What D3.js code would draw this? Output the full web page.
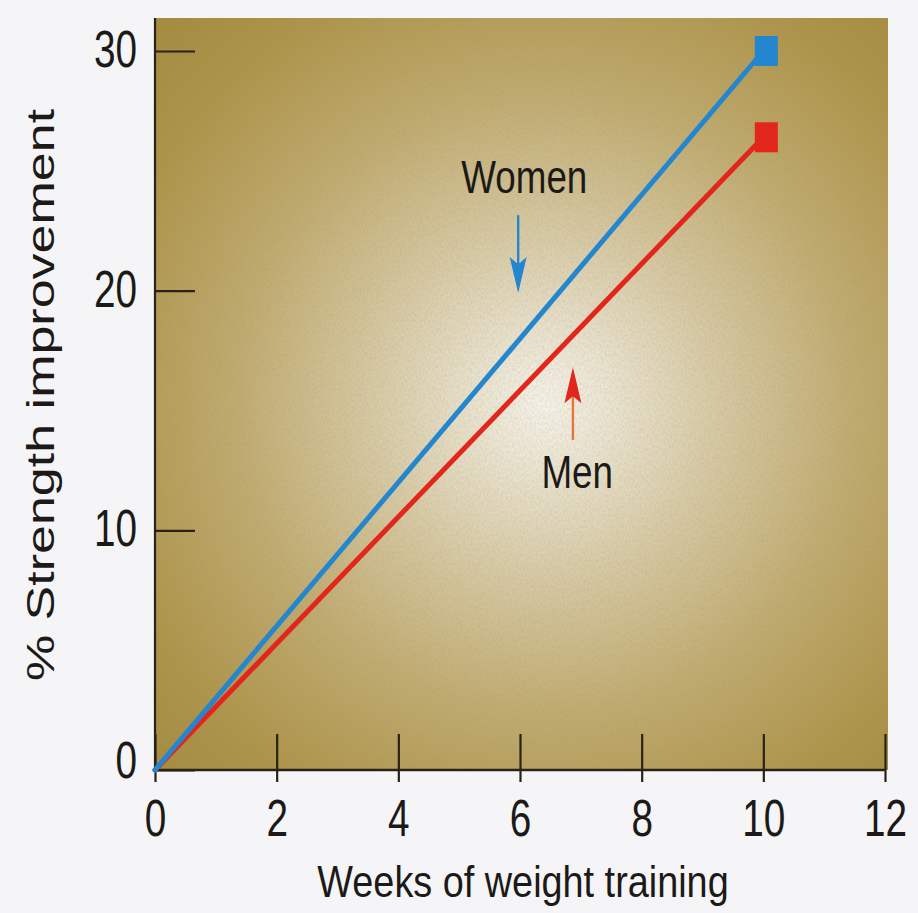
<!DOCTYPE html>
<html>
<head>
<meta charset="utf-8">
<script src="https://cdn.jsdelivr.net/npm/d3@7"></script>
<style>
  html, body { margin: 0; padding: 0; background: #f5f5f7; }
  svg { display: block; }
  text { font-family: "Liberation Sans", Arial, Helvetica, sans-serif; fill: #1c1a18; }
</style>
</head>
<body>
<svg id="chart" width="918" height="913"></svg>
<script>
// Weeks of training and % strength improvement for each group
const weeks = [0, 10];
const women = [0, 30];
const men = [0, 26.4];

const xTicks = [0, 2, 4, 6, 8, 10, 12];
const yTicks = [0, 10, 20, 30];

const xTitle = "Weeks of weight training";
const yTitle = "% Strength improvement";

// Annotation anchors in data units: label position, arrow tail, arrow tip
const womenNote = { label: "Women", lx: 6.07, ly: 24.07, ax: 5.97, from: 23.15, to: 19.9 };
const menNote = { label: "Men", lx: 6.94, ly: 11.76, ax: 6.87, from: 13.77, to: 16.8 };

const W = 918, H = 913;
const svg = d3.select("#chart");

const x = d3.scaleLinear().domain([0, 12]).range([155, 885]);
const y = d3.scaleLinear().domain([0, 30]).range([770, 51]);
const plotTop = 18, plotRight = 888;

// Type in this figure is horizontally condensed
const squeeze = 0.76;

const defs = svg.append("defs");
const grad = defs.append("radialGradient")
  .attr("id", "bg").attr("gradientUnits", "userSpaceOnUse")
  .attr("cx", 545).attr("cy", 405).attr("r", 560);
[[0, "#f5f2ea"], [0.1, "#ece6d5"], [0.3, "#d7caa6"], [0.55, "#c0ab70"], [0.8, "#ae944a"], [1, "#a3893d"]]
  .forEach(([o, c]) => grad.append("stop").attr("offset", o).attr("stop-color", c));

const grain = defs.append("filter").attr("id", "grain")
  .attr("x", 0).attr("y", 0).attr("width", 1).attr("height", 1);
grain.append("feTurbulence").attr("type", "fractalNoise")
  .attr("baseFrequency", "0.55 0.35").attr("numOctaves", 2).attr("seed", 7).attr("result", "n");
grain.append("feColorMatrix").attr("in", "n").attr("type", "matrix")
  .attr("values", "0 0 0 0 0.35  0 0 0 0 0.3  0 0 0 0 0.15  1.2 0 0 0 -0.45");
grain.append("feComposite").attr("in2", "SourceGraphic").attr("operator", "in");

// Plot background
const px0 = x(0), py1 = y(0);
svg.append("rect").attr("x", px0).attr("y", plotTop)
  .attr("width", plotRight - px0).attr("height", py1 - plotTop)
  .attr("fill", "url(#bg)");
svg.append("rect").attr("x", px0).attr("y", plotTop)
  .attr("width", plotRight - px0).attr("height", py1 - plotTop)
  .attr("fill", "#000").attr("opacity", 0.35).attr("filter", "url(#grain)");

const axisColor = "#2a2118";

// Y axis with ticks pointing into the plot
const yAxis = svg.append("g").attr("transform", `translate(${px0},0)`)
  .call(d3.axisLeft(y).tickValues(yTicks).tickSizeInner(-40).tickSizeOuter(0).tickPadding(0));
yAxis.select(".domain").remove();
yAxis.selectAll(".tick line").attr("stroke", axisColor).attr("stroke-width", 2.2);
yAxis.selectAll(".tick text")
  .attr("font-size", 51).attr("fill", "#1c1a18")
  .attr("font-family", null)
  .attr("text-anchor", "end")
  .attr("dy", null)
  .attr("dominant-baseline", "central")
  .attr("x", -18 / squeeze)
  .attr("y", d => d === 0 ? -10 : -2)
  .attr("transform", `scale(${squeeze},1)`);

// X axis with ticks crossing the baseline
const xAxis = svg.append("g").attr("transform", `translate(0,${py1})`)
  .call(d3.axisBottom(x).tickValues(xTicks).tickSizeOuter(0));
xAxis.select(".domain").remove();
xAxis.selectAll(".tick line").attr("stroke", axisColor).attr("stroke-width", 2.2)
  .attr("y1", 12).attr("y2", -36);
xAxis.selectAll(".tick text")
  .attr("font-size", 51).attr("fill", "#1c1a18")
  .attr("font-family", null)
  .attr("dy", null)
  .attr("y", 66)
  .attr("transform", `scale(${squeeze},1)`);

// Frame lines on the left and bottom
svg.append("line").attr("x1", px0).attr("x2", px0).attr("y1", plotTop).attr("y2", py1 + 1)
  .attr("stroke", axisColor).attr("stroke-width", 2.2);
svg.append("line").attr("x1", px0 - 1).attr("x2", x(12)).attr("y1", py1).attr("y2", py1)
  .attr("stroke", axisColor).attr("stroke-width", 2.4);

// Series lines and end markers
const series = [
  { name: "Men", values: men, color: "#e3261b" },
  { name: "Women", values: women, color: "#2486cf" }
];
const line = d3.line().x((d, i) => x(weeks[i])).y(d => y(d));
series.forEach(s => {
  svg.append("path").datum(s.values).attr("d", line)
    .attr("fill", "none").attr("stroke", s.color).attr("stroke-width", 5)
    .attr("stroke-linecap", "round");
  const last = s.values.length - 1;
  const mw = 23, mh = 30;
  svg.append("rect")
    .attr("x", x(weeks[last]) + 3 - mw / 2).attr("y", y(s.values[last]) - mh / 2)
    .attr("width", mw).attr("height", mh).attr("fill", s.color);
});

// Annotation labels with arrows
function note(n, shaftColor, headColor) {
  svg.append("text")
    .attr("transform", `translate(${x(n.lx)},${y(n.ly)}) scale(0.8,1)`)
    .attr("text-anchor", "middle").attr("font-size", 46).text(n.label);
  const ax = x(n.ax), y0 = y(n.from), y1 = y(n.to);
  const dir = Math.sign(y1 - y0), headLen = 36, headHalf = 8.5;
  svg.append("line").attr("x1", ax).attr("x2", ax)
    .attr("y1", y0).attr("y2", y1 - dir * headLen * 0.8)
    .attr("stroke", shaftColor).attr("stroke-width", 2.4);
  svg.append("path")
    .attr("d", `M${ax},${y1} L${ax - headHalf},${y1 - dir * headLen} L${ax},${y1 - dir * headLen * 0.8} L${ax + headHalf},${y1 - dir * headLen} Z`)
    .attr("fill", headColor);
}
note(womenNote, "#2486cf", "#2486cf");
note(menNote, "#e7763a", "#e3261b");

// Axis titles
svg.append("text")
  .attr("transform", `translate(523,897) scale(0.86,1)`)
  .attr("text-anchor", "middle").attr("font-size", 44).text(xTitle);
svg.append("text")
  .attr("transform", `translate(54,395) scale(0.74,1) rotate(-90)`)
  .attr("text-anchor", "middle").attr("font-size", 52).text(yTitle);
</script>
</body>
</html>
